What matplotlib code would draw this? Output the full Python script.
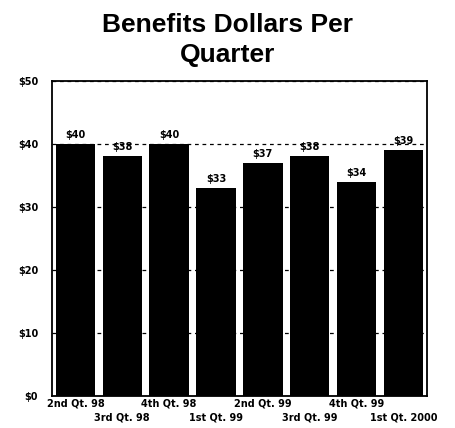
import numpy as np
import matplotlib
matplotlib.use('Agg')
import matplotlib.pyplot as plt

# benefits dollars per quarter
quarters = ['2nd Qt. 98', '3rd Qt. 98', '4th Qt. 98', '1st Qt. 99',
            '2nd Qt. 99', '3rd Qt. 99', '4th Qt. 99', '1st Qt. 2000']
dollars = [40, 38, 40, 33, 37, 38, 34, 39]
y_ticks = [0, 10, 20, 30, 40, 50]

fig = plt.figure(figsize=(4.56, 4.28), dpi=100)
ax = fig.add_axes([0.114, 0.075, 0.822, 0.736])

x = np.arange(len(quarters))
ax.bar(x, dollars, width=0.84, color='black', zorder=3)

for xi, v in zip(x, dollars):
    ax.annotate('$%d' % v, (xi, v), xytext=(0, 3), textcoords='offset points',
                ha='center', va='bottom', fontsize=7, fontweight='bold')

ax.set_ylim(0, 50)
ax.set_xlim(-0.5, len(quarters) - 0.5)
ax.set_yticks(y_ticks)
ax.set_yticklabels(['$%d' % t for t in y_ticks], fontsize=7, fontweight='bold')
ax.yaxis.grid(True, linestyle=(0, (3, 3)), color='black', linewidth=0.9, zorder=0)

# staggered category labels: even ones on major ticks, odd ones on minor ticks
ax.set_xticks(x[::2])
ax.set_xticklabels(quarters[::2], fontsize=7, fontweight='bold')
ax.set_xticks(x[1::2], minor=True)
ax.set_xticklabels(quarters[1::2], minor=True, fontsize=7, fontweight='bold')
ax.tick_params(axis='both', which='both', length=0)
ax.tick_params(axis='y', pad=10)
ax.tick_params(axis='x', which='major', pad=2)
ax.tick_params(axis='x', which='minor', pad=12)

for s in ax.spines.values():
    s.set_linewidth(1.3)
    s.set_color('black')

fig.text(0.5, 0.97, 'Benefits Dollars Per\nQuarter', ha='center', va='top',
         fontsize=19, fontweight='semibold', fontfamily='Liberation Sans',
         linespacing=1.3)

fig.savefig('out.png', dpi=100)
